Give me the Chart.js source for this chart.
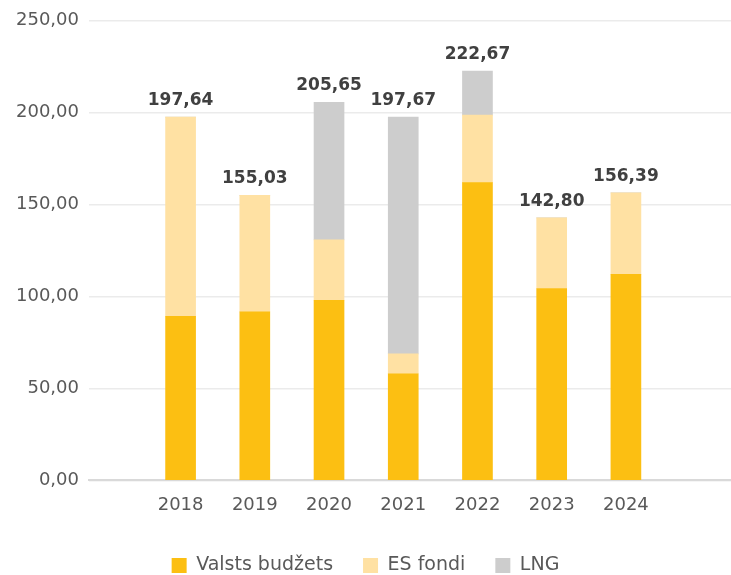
<!DOCTYPE html>
<html>
<head>
<meta charset="utf-8">
<script src="https://cdn.jsdelivr.net/npm/chart.js@4/dist/chart.umd.min.js"></script>
<style>
  html, body { margin: 0; padding: 0; background: #fff; }
  #wrap { width: 731px; height: 575px; }
</style>
</head>
<body>
<div id="wrap"><canvas id="budgetChart"></canvas></div>
<script>
// dati no attēla
const years = [2018, 2019, 2020, 2021, 2022, 2023, 2024];
const valstsBudzets = [89.3, 91.7, 98.0, 58.0, 162.0, 104.4, 112.1];
const esFondi = [108.34, 63.33, 32.8, 10.8, 36.7, 38.4, 44.29];
const lng = [0, 0, 74.85, 128.87, 23.97, 0, 0];
const totals = [197.64, 155.03, 205.65, 197.67, 222.67, 142.80, 156.39];
const yTicks = [0, 50, 100, 150, 200, 250];

function fmt(v) {
  return v.toFixed(2).replace(".", ",");
}

function points(arr) {
  return years.map((y, i) => ({ x: y, y: arr[i] }));
}

// kopsummas virs stabiņiem
const totalLabels = {
  id: "totalLabels",
  afterDatasetsDraw(chart) {
    const ctx = chart.ctx;
    const xs = chart.scales.x;
    const ys = chart.scales.y;
    ctx.save();
    ctx.font = "bold 17px 'DejaVu Sans'";
    ctx.fillStyle = "#404040";
    ctx.textAlign = "center";
    ctx.textBaseline = "alphabetic";
    for (let i = 0; i < years.length; i++) {
      ctx.fillText(fmt(totals[i]), xs.getPixelForValue(years[i]), ys.getPixelForValue(totals[i]) - 12);
    }
    ctx.restore();
  },
};

const config = {
  type: "bar",
  data: {
    datasets: [
      {
        label: "Valsts budžets",
        data: points(valstsBudzets),
        backgroundColor: "#FCBF12",
        barThickness: 30,
      },
      {
        label: "ES fondi",
        data: points(esFondi),
        backgroundColor: "#FFE1A3",
        barThickness: 30,
      },
      {
        label: "LNG",
        data: points(lng),
        backgroundColor: "#CDCDCD",
        barThickness: 30,
      },
    ],
  },
  options: {
    responsive: true,
    maintainAspectRatio: false,
    animation: false,
    layout: { padding: { top: 20, right: 0, bottom: -10, left: 0 } },
    plugins: {
      tooltip: { enabled: false },
      legend: {
        position: "bottom",
        labels: {
          boxWidth: 15,
          boxHeight: 15,
          padding: 30,
          color: "#595959",
          font: { family: "'DejaVu Sans'", size: 19 },
        },
      },
    },
    scales: {
      x: {
        type: "linear",
        stacked: true,
        offset: false,
        min: 2016.766,
        max: 2025.416,
        afterBuildTicks(scale) {
          scale.ticks = years.map((v) => ({ value: v }));
        },
        afterFit(scale) {
          scale.height += 4;
        },
        ticks: {
          autoSkip: false,
          maxRotation: 0,
          padding: 6,
          color: "#595959",
          font: { family: "'DejaVu Sans'", size: 18 },
          callback: (v) => String(v),
        },
        grid: { display: false },
        border: { display: true, color: "#D9D9D9", width: 2 },
      },
      y: {
        stacked: true,
        min: 0,
        max: 250,
        afterBuildTicks(scale) {
          scale.ticks = yTicks.map((v) => ({ value: v }));
        },
        afterFit(scale) {
          scale.width = 89;
        },
        ticks: {
          padding: 10,
          color: "#595959",
          font: { family: "'DejaVu Sans'", size: 18 },
          callback: (v) => fmt(v),
        },
        grid: { color: "#EBEBEB", lineWidth: 1.5, drawTicks: false },
        border: { display: false },
      },
    },
  },
  plugins: [totalLabels],
};

const myChart = new Chart(document.getElementById("budgetChart"), config);
</script>
</body>
</html>
